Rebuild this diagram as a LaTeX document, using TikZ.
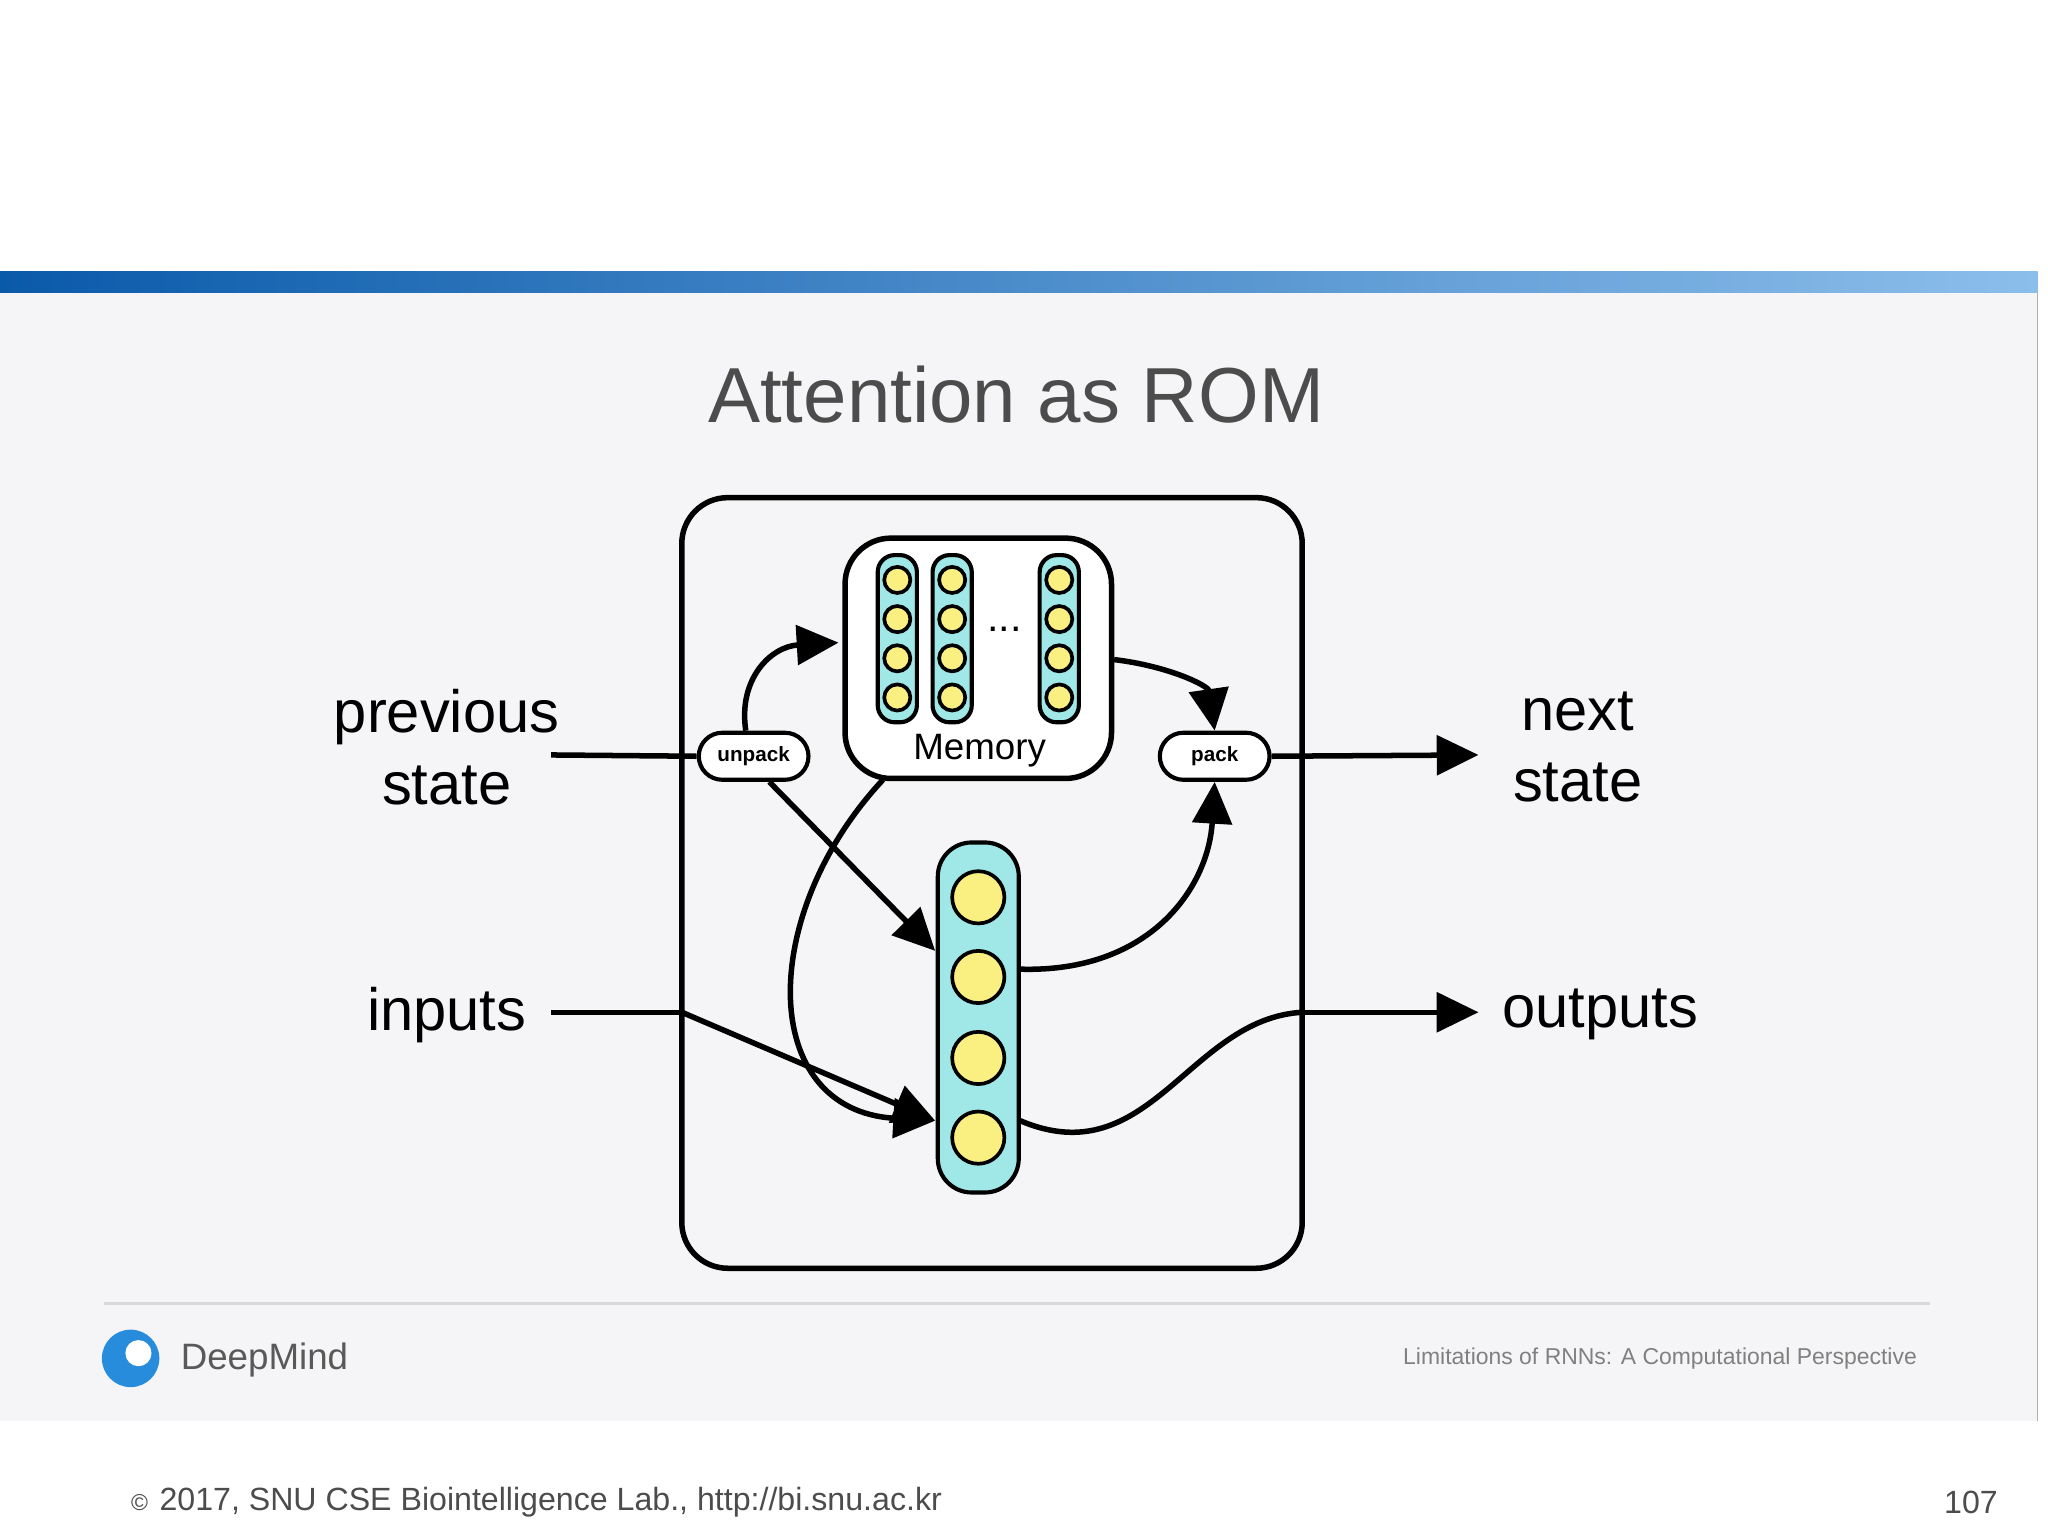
\documentclass[tikz,border=0pt]{standalone}
\usepackage{fontspec}
\setmainfont{Liberation Sans}
\usetikzlibrary{positioning,
                arrows.meta,                % arrow tips
                shapes.misc}
\definecolor{slidebg}{RGB}{245,245,247}
\definecolor{cellfill}{RGB}{160,232,232}
\definecolor{unitfill}{RGB}{250,240,130}
\definecolor{barL}{RGB}{10,90,170}
\definecolor{barR}{RGB}{140,190,235}
\definecolor{logo}{RGB}{40,140,220}
\tikzset{
  flow/.style={line width=1.2pt, -{Triangle[length=0.32cm,width=0.3cm]}},
  link/.style={line width=1.2pt},
  pill/.style={draw, line width=0.9pt, rounded rectangle, fill=white,
               minimum width=0.84cm, minimum height=0.36cm, inner sep=0pt,
               font=\fontsize{4.5}{5}\selectfont\bfseries},
  bar/.style={draw, line width=0.9pt, fill=cellfill, rounded corners=#1},
  side/.style={font=\fontsize{13}{15.5}\selectfont, align=center},
  unit/.style={circle, draw, line width=0.8pt, fill=unitfill}
}
\begin{document}
\begin{tikzpicture}[x=0.1mm, y=-0.1mm]
  \useasboundingbox (0,0) rectangle (1568,1176);
  \fill[white] (0,0) rectangle (1568,1176);
  % slide
  \fill[slidebg] (0,224) rectangle (1560,1088);
  \draw[gray!60] (1560,208) -- (1560,1088);
  \shade[left color=barL, right color=barR] (0,208) rectangle (1560,224);
  \node[text=black!70, font=\fontsize{17}{20}\selectfont] (title) at (778,302) {Attention as ROM};

  % core
  \draw[line width=1.2pt, rounded corners=10] (522,381) rectangle (997,971);
  \draw[line width=1.2pt, rounded corners=10, fill=white] (647,412) rectangle (851,596);
  \node[font=\fontsize{8}{10}\selectfont] (mem) at (750,575) {Memory};
  \node[font=\fontsize{9}{10}\selectfont] (dots) at (769,482) {...};
  \foreach \cx in {687,729,811}{
    \draw[bar=1.3mm] (\cx,425) ++(-15,0) rectangle ++(30,128);
    \foreach \cy in {444,474,504,534}
      \node[unit, minimum size=0.2cm, inner sep=0pt] at (\cx,\cy) {};
  }
  \draw[bar=2.6mm] (718,645) rectangle (780,913);
  \foreach \cy/\n in {687/a,748/b,810/c,871/d}
    \node[unit, minimum size=0.4cm, inner sep=0pt] (u\n) at (749,\cy) {};

  \node[pill] (unpack) at (577,579) {unpack};
  \node[pill] (pack) at (930,579) {pack};

  % labels
  \node[side] (prev) at (342,572) {previous\\state};
  \node[side] (nxt) at (1208,572) {next\\state};
  \node[side] (inp) at (342,777) {inputs};
  \node[side] (outp) at (1225,777) {outputs};

  \coordinate (prevEnd) at (422,578);
  \coordinate (inpEnd) at (422,775);
  \coordinate (memL) at (642,492);
  \coordinate (memR) at (853,505);
  \coordinate (memB) at (676,597);
  \coordinate (colT) at (716,728);
  \coordinate (colB) at (716,858);
  \coordinate (colR1) at (781,742);
  \coordinate (colR2) at (781,858);
  \coordinate (inEdge) at (522,775);
  \coordinate (outEdge) at (997,775);
  \coordinate (nxtEnd) at (1132,578);
  \coordinate (outEnd) at (1132,775);

  % connectors
  \draw[link] (prevEnd) -- (unpack.west);
  \draw[flow] (pack.east) -- (nxtEnd);
  \draw[flow] (unpack.north) ++(-6,0) .. controls (565,520) and (590,495) .. (memL);
  \draw[flow] (memR) .. controls (895,510) and (925,525) .. (pack.north);
  \draw[flow] (unpack.south east) ++(-12,0) -- (colT);
  \draw[flow] (memB) .. controls (580,700) and (580,850) .. (colB);
  \draw[link] (inpEnd) -- (inEdge);
  \draw[flow] (inEdge) -- (colB);
  \draw[flow] (colR1) .. controls (880,745) and (925,680) .. (pack.south);
  \draw[link] (colR2) .. controls (880,900) and (910,780) .. (outEdge);
  \draw[flow] (outEdge) -- (outEnd);

  % footer
  \draw[gray!30, line width=0.8pt] (80,998) -- (1478,998);
  \fill[logo] (100,1040) circle (22);
  \fill[white] (106,1036) circle (10);
  \node[text=black!65, font=\fontsize{8}{10}\selectfont, anchor=west] (dm) at (126,1041) {DeepMind};
  \node[text=black!50, font=\fontsize{5}{6}\selectfont, anchor=east] (talk) at (1480,1040) {Limitations of RNNs: A Computational Perspective};
  \node[text=black!70, font=\fontsize{7}{8}\selectfont, anchor=west] (copy) at (88,1150) {\fontsize{5}{6}\selectfont©\enspace\fontsize{7}{8}\selectfont 2017, SNU CSE Biointelligence Lab., http://bi.snu.ac.kr};
  \node[text=black!70, font=\fontsize{7}{8}\selectfont, anchor=east] (page) at (1542,1150) {107};
\end{tikzpicture}
\end{document}
